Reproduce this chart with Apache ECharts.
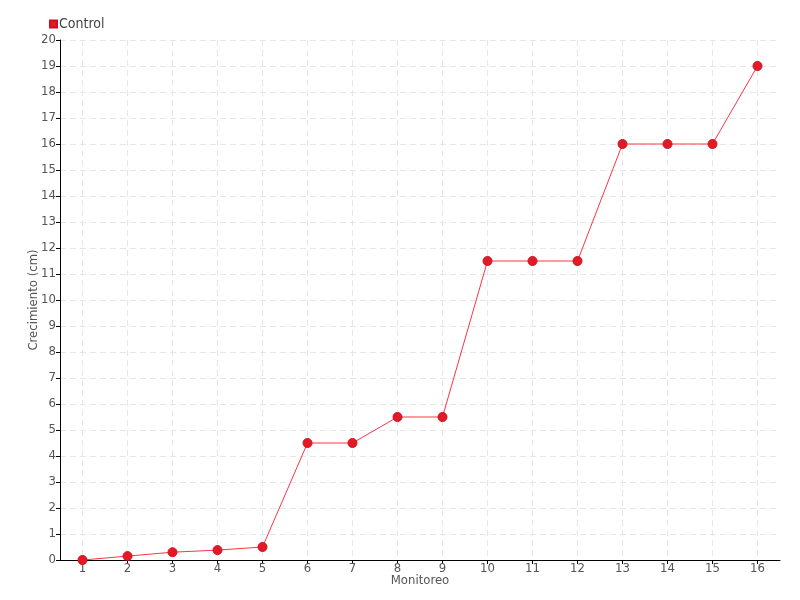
<!DOCTYPE html>
<html>
<head>
<meta charset="utf-8">
<script src="https://cdn.jsdelivr.net/npm/echarts@6/dist/echarts.min.js"></script>
<style>
    html, body { margin: 0; padding: 0; background: #fff; }
    #chart { width: 800px; height: 600px; }
</style>
</head>
<body>
<div id="chart"></div>
<script>
// datos del gráfico
const monitoreos = [1, 2, 3, 4, 5, 6, 7, 8, 9, 10, 11, 12, 13, 14, 15, 16];
const control = [0, 0.15, 0.3, 0.38, 0.5, 4.5, 4.5, 5.5, 5.5, 11.5, 11.5, 11.5, 16, 16, 16, 19];

const fontFamily = '"DejaVu Sans Condensed", "Liberation Sans Narrow", sans-serif';
const chart = echarts.init(document.getElementById('chart'));

const option = {
    animation: false,
    textStyle: { fontFamily: fontFamily },
    legend: {
        left: 44,
        top: 12,
        itemWidth: 7,
        itemHeight: 7,
        itemGap: 4,
        icon: 'rect',
        textStyle: { color: '#444', fontSize: 14, fontFamily: fontFamily, padding: [0, 0, 0, -3] },
        data: ['Control']
    },
    grid: { left: 60, right: 20, top: 40, bottom: 40 },
    xAxis: {
        type: 'value',
        min: 0.5,
        max: 16.5,
        minInterval: 1,
        maxInterval: 1,
        name: 'Monitoreo',
        nameLocation: 'middle',
        nameGap: 14,
        nameMoveOverlap: false,
        nameTextStyle: { color: '#555', fontSize: 13 },
        axisLine: { lineStyle: { color: '#000' } },
        axisTick: { length: 4, lineStyle: { color: '#000' } },
        axisLabel: {
            color: '#555', fontSize: 13, margin: 2,
            showMinLabel: false, showMaxLabel: false,
            formatter: v => (v % 1 === 0 ? String(v) : '')
        },
        splitLine: { show: true, showMinLine: false, showMaxLine: false, lineStyle: { color: '#e6e6e6', type: [6, 4] } }
    },
    yAxis: {
        type: 'value',
        min: 0,
        max: 20,
        interval: 1,
        name: 'Crecimiento (cm)',
        nameLocation: 'middle',
        nameGap: 20,
        nameMoveOverlap: false,
        nameTextStyle: { color: '#555', fontSize: 13 },
        axisLine: { show: true, lineStyle: { color: '#000' } },
        axisTick: { show: true, length: 4, lineStyle: { color: '#000' } },
        axisLabel: { color: '#555', fontSize: 13, margin: 4 },
        splitLine: { show: true, lineStyle: { color: '#e6e6e6', type: [6, 4] } }
    },
    series: [
        {
            name: 'Control',
            type: 'line',
            data: monitoreos.map((m, i) => [m, control[i]]),
            symbol: 'circle',
            symbolSize: 9,
            lineStyle: { color: '#ff3344', width: 1 },
            itemStyle: { color: '#e31a25', borderColor: '#d01020', borderWidth: 1 }
        }
    ],
    color: ['#e31a25']
};

chart.setOption(option);
</script>
</body>
</html>
